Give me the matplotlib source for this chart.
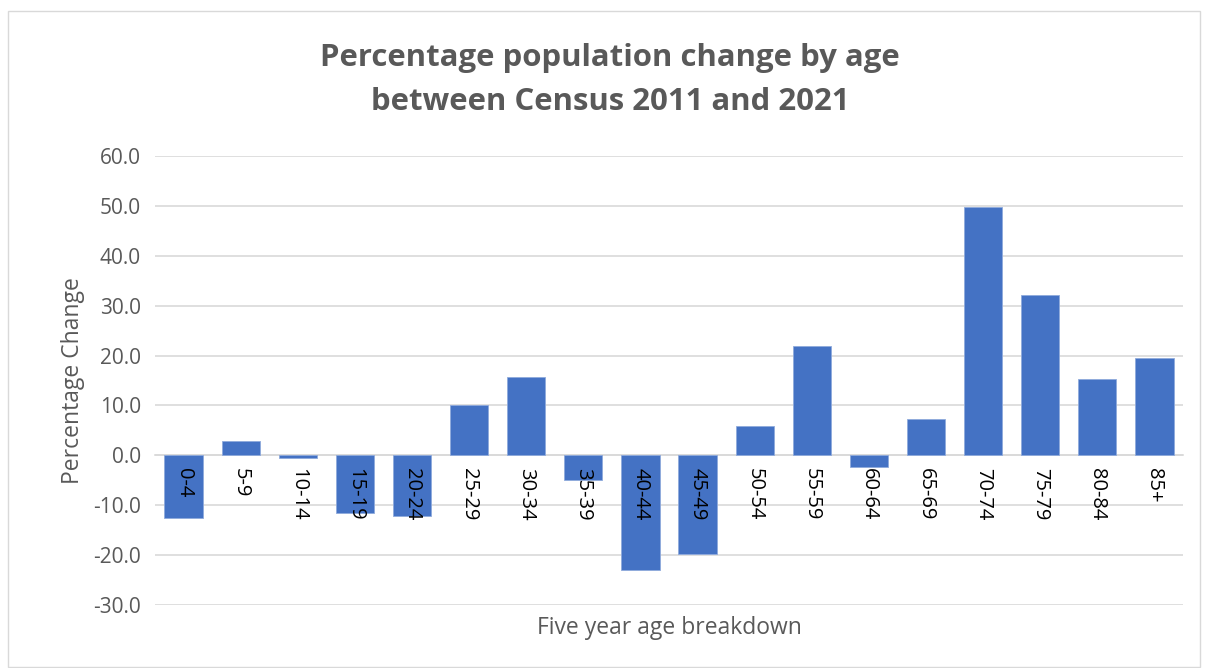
import matplotlib.pyplot as plt
from matplotlib.patches import Rectangle

ages = ['0-4', '5-9', '10-14', '15-19', '20-24', '25-29', '30-34', '35-39', '40-44',
        '45-49', '50-54', '55-59', '60-64', '65-69', '70-74', '75-79', '80-84', '85+']
pct_change = [-12.5, 2.9, -0.6, -11.5, -12.1, 10.1, 15.8, -4.9, -22.9,
              -19.7, 5.9, 22.0, -2.3, 7.3, 49.8, 32.2, 15.4, 19.5]
y_ticks = [-30, -20, -10, 0, 10, 20, 30, 40, 50, 60]

plt.rcParams['font.family'] = ['Open Sans', 'DejaVu Sans']
text_grey = '#595959'
grid_grey = '#d9d9d9'
bar_blue = '#4472c4'

fig = plt.figure(figsize=(12.06, 6.68), dpi=100)
ax = fig.add_axes([155 / 1206, 1 - 605 / 668, 1028 / 1206, 449 / 668])

x = range(len(ages))
ax.bar(x, pct_change, width=0.67, color=bar_blue, edgecolor='#8faadc', linewidth=0.6, zorder=3)

ax.set_xlim(-0.5, len(ages) - 0.5)
ax.set_ylim(-30, 60)
ax.set_yticks(y_ticks)
ax.set_yticklabels([f'{v:.1f}' for v in y_ticks], fontsize=15, color=text_grey)
ax.yaxis.grid(True, color=grid_grey, linewidth=1.2, zorder=0)
ax.tick_params(axis='y', length=0, pad=10)

ax.spines['bottom'].set_position(('data', 0))
ax.spines['bottom'].set_color(grid_grey)
ax.spines['bottom'].set_linewidth(1.2)
for side in ['top', 'right', 'left']:
    ax.spines[side].set_visible(False)

ax.set_xticks(list(x))
ax.set_xticklabels(ages, rotation=-90, fontsize=14.5, color='black', va='top', ha='center')
ax.tick_params(axis='x', length=0, pad=9)
ax.xaxis.set_zorder(5)

ax.set_ylabel('Percentage Change', fontsize=16.5, color=text_grey, labelpad=6)
fig.text(669 / 1206, 1 - 628 / 668, 'Five year age breakdown', fontsize=16.5,
         color=text_grey, ha='center', va='center')

fig.text(610 / 1206, 1 - 80 / 668, 'Percentage population change by age\nbetween Census 2011 and 2021',
         fontsize=22.4, fontweight='bold', color=text_grey, ha='center', va='center',
         linespacing=1.6)

fig.patches.append(Rectangle((8 / 1206, 0.002), 1192 / 1206, 1 - 12 / 668,
                             transform=fig.transFigure, fill=False,
                             edgecolor=grid_grey, linewidth=1))

fig.savefig('out.png', dpi=100)
